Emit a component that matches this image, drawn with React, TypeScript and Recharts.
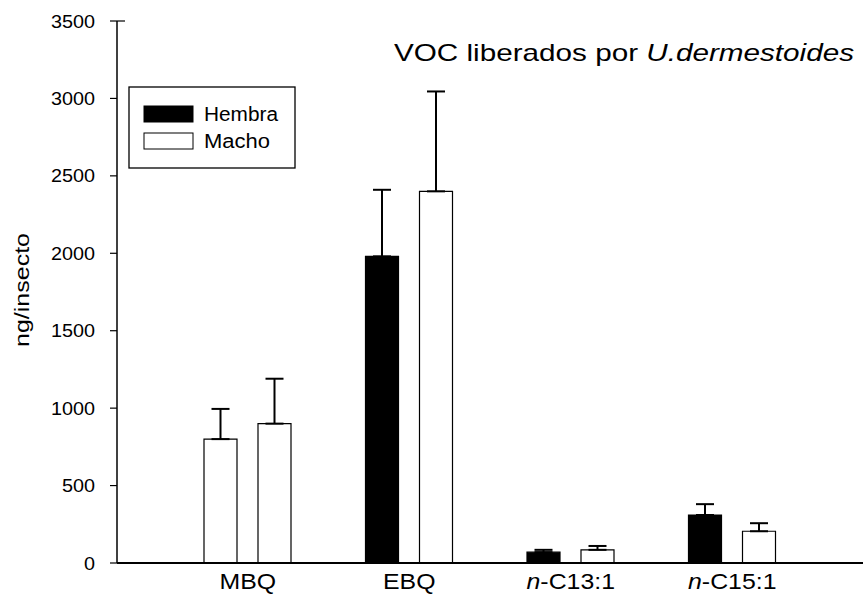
import { BarChart, Bar, Cell, XAxis, YAxis, ErrorBar, Legend } from "recharts"

const categories = ["MBQ", "EBQ", "n-C13:1", "n-C15:1"]
const hembra = [800, 1980, 70, 310]
const hembraErr = [195, 430, 15, 70]
const macho = [900, 2400, 85, 205]
const machoErr = [290, 645, 25, 52]
const yTicks = [0, 500, 1000, 1500, 2000, 2500, 3000, 3500]

const FONT = "'Liberation Sans', Arial, Helvetica, sans-serif"

const data = categories.map((name, i) => ({
  name,
  hembra: hembra[i],
  hembraErr: [0, hembraErr[i]],
  macho: macho[i],
  machoErr: [0, machoErr[i]],
}))

function YTick({ x, y, payload }: any) {
  const top = payload.value === yTicks[yTicks.length - 1]
  return (
    <g>
      {/* little cap sticking out to the right at the top of the axis */}
      {top && <line x1={x + 22} x2={x + 30} y1={y} y2={y} stroke="#000" strokeWidth={1.2} />}
      <g transform={`translate(${x},${y}) scale(1.1,1)`}>
        <text x={0} y={0} dy={6.5} textAnchor="end" fontSize={18} fontFamily={FONT} fill="#000">
          {payload.value}
        </text>
      </g>
    </g>
  )
}

function XTick({ x, y, payload }: any) {
  const label: string = payload.value
  const italic = label.startsWith("n-")
  return (
    <g transform={`translate(${x},${y}) scale(1.13,1)`}>
      <text x={0} y={26} textAnchor="middle" fontSize={22} fontFamily={FONT} fill="#000">
        {italic ? (
          <>
            <tspan fontStyle="italic">n</tspan>
            <tspan>{label.slice(1)}</tspan>
          </>
        ) : label}
      </text>
    </g>
  )
}

function LegendBox() {
  return (
    <svg width={168} height={83}>
      <rect x={1} y={1} width={166} height={81} fill="#fff" stroke="#000" strokeWidth={1.3} />
      <rect x={16} y={20} width={49} height={16} fill="#000" stroke="#000" />
      <rect x={16} y={47} width={49} height={16} fill="#fff" stroke="#000" strokeWidth={1} />
      <text x={76} y={35} fontSize={20} fontFamily={FONT} fill="#000" textLength={74} lengthAdjust="spacingAndGlyphs">Hembra</text>
      <text x={76} y={62} fontSize={20} fontFamily={FONT} fill="#000" textLength={66} lengthAdjust="spacingAndGlyphs">Macho</text>
    </svg>
  )
}

export default function App() {
  return (
    <div style={{ position: "absolute", left: 0, top: 0, width: 863, height: 595, background: "#fff" }}>
      <BarChart
        width={863}
        height={595}
        data={data}
        margin={{ top: 21, right: 0, bottom: 2, left: 57 }}
        barSize={33}
        barGap={21}
      >
        <XAxis
          dataKey="name"
          height={30}
          padding={{ left: 50, right: 50 }}
          axisLine={{ stroke: "#000", strokeWidth: 2 }}
          tickLine={false}
          tickSize={0}
          tickMargin={0}
          interval={0}
          tick={<XTick />}
        />
        <YAxis
          width={60}
          domain={[0, 3500]}
          ticks={yTicks}
          interval={0}
          axisLine={{ stroke: "#000", strokeWidth: 1.5 }}
          tickLine={{ stroke: "#000", strokeWidth: 1.2 }}
          tickSize={7}
          tickMargin={15}
          tick={<YTick />}
        />
        <Legend
          layout="horizontal"
          verticalAlign="middle"
          align="center"
          content={() => <LegendBox />}
          wrapperStyle={{ position: "absolute", left: 128, top: 86, width: 168, height: 83 }}
        />
        <Bar dataKey="hembra" name="Hembra" fill="#000" stroke="#000" strokeWidth={1.2} isAnimationActive={false}>
          {data.map((d) => (
            <Cell key={d.name} fill={d.name === "MBQ" ? "#fff" : "#000"} />
          ))}
          <ErrorBar dataKey="hembraErr" width={9} stroke="#000" strokeWidth={2} direction="y" isAnimationActive={false} />
        </Bar>
        <Bar dataKey="macho" name="Macho" fill="#fff" stroke="#000" strokeWidth={1.2} isAnimationActive={false}>
          <ErrorBar dataKey="machoErr" width={9} stroke="#000" strokeWidth={2} direction="y" isAnimationActive={false} />
        </Bar>
      </BarChart>
      <svg width={863} height={595} style={{ position: "absolute", left: 0, top: 0, pointerEvents: "none" }}>
        <text x={394} y={61} fontSize={24} fontFamily={FONT} fill="#000" textLength={460} lengthAdjust="spacingAndGlyphs">
          VOC liberados por <tspan fontStyle="italic">U.dermestoides</tspan>
        </text>
        <text
          x={0}
          y={0}
          transform="translate(29,290) rotate(-90)"
          textAnchor="middle"
          fontSize={20}
          fontFamily={FONT}
          fill="#000"
          textLength={114}
          lengthAdjust="spacingAndGlyphs"
        >
          ng/insecto
        </text>
      </svg>
    </div>
  )
}
